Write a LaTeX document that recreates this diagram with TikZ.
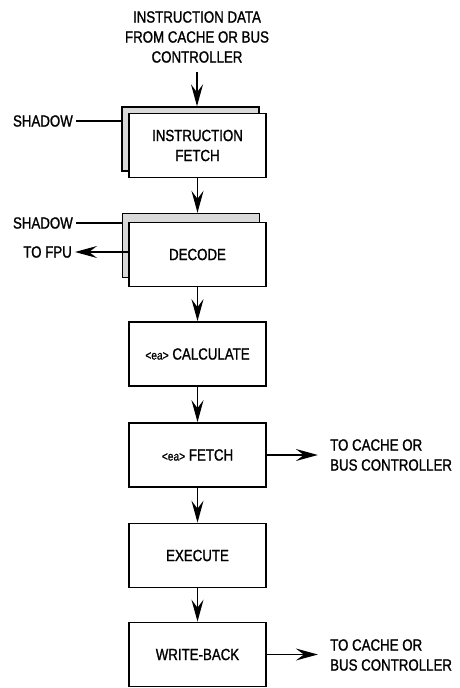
\documentclass[tikz,border=0pt]{standalone}
\usepackage{fontspec}
\setmainfont{Liberation Sans}[FakeStretch=0.82,FakeBold=1.2]
\usetikzlibrary{arrows.meta}
\begin{document}
\begin{tikzpicture}[x=1pt,y=-1pt,
  every node/.style={font=\fontsize{16.2}{20}\selectfont},
  stage/.style={draw=black,line width=1.7pt,fill=white,minimum width=137pt,minimum height=64pt,inner sep=0pt,align=center},
  shade/.style={draw=black,line width=1.4pt,fill=gray!30,minimum width=137pt,minimum height=64pt,inner sep=0pt},
  lbl/.style={inner sep=3pt,align=left},
  conn/.style={line width=1.3pt},
  arr/.style={line width=1.3pt,-{Stealth[length=22pt,width=12pt,inset=8pt]}}]
\useasboundingbox (0,0) rectangle (460,688);
% top text
\node[align=center] (src) at (197,37) {INSTRUCTION DATA\\FROM CACHE OR BUS\\CONTROLLER};
% shadows
\node[shade] (ifs) at (190.5,139) {};
\node[shade] (decs) at (191,245.5) {};
% stages
\node[stage] (if) at (197.5,145.5) {INSTRUCTION\\FETCH};
\node[stage] (dec) at (197.5,254.5) {DECODE};
\node[stage] (calc) at (197.5,354) {{\fontsize{12.5}{14}\selectfont <ea>} CALCULATE};
\node[stage] (fetch) at (197.5,455) {{\fontsize{12.5}{14}\selectfont <ea>} FETCH};
\node[stage] (exe) at (197.5,555.5) {EXECUTE};
\node[stage] (wb) at (197.5,654.5) {WRITE-BACK};
% side labels
\node[lbl,anchor=east] (sh1) at (76,121) {SHADOW};
\node[lbl,anchor=east] (sh2) at (76,223) {SHADOW};
\node[lbl,anchor=east] (fpu) at (75,252) {TO FPU};
\node[lbl,anchor=west] (c1) at (327,455) {TO CACHE OR\\BUS CONTROLLER};
\node[lbl,anchor=west] (c2) at (327,655) {TO CACHE OR\\BUS CONTROLLER};
% connectors
\draw[arr] (src.south -| ifs.north) ++(6.5,6) coordinate (t0) -- (t0 |- ifs.north);
\draw[arr] (if.south) -- (if.south |- decs.north);
\draw[arr] (dec.south) -- (calc.north);
\draw[arr] (calc.south) -- (fetch.north);
\draw[arr] (fetch.south) -- (exe.north);
\draw[arr] (exe.south) -- (wb.north);
\draw[conn] (sh1.east) -- (sh1.east -| ifs.west);
\draw[conn] (sh2.east) -- (sh2.east -| decs.west);
\draw[arr] (fpu.east -| dec.west) -- (fpu.east);
\draw[arr] (fetch.east) -- ++(51,0) coordinate (e1);
\draw[arr] (wb.east) -- ++(51,0) coordinate (e2);
\end{tikzpicture}
\end{document}
